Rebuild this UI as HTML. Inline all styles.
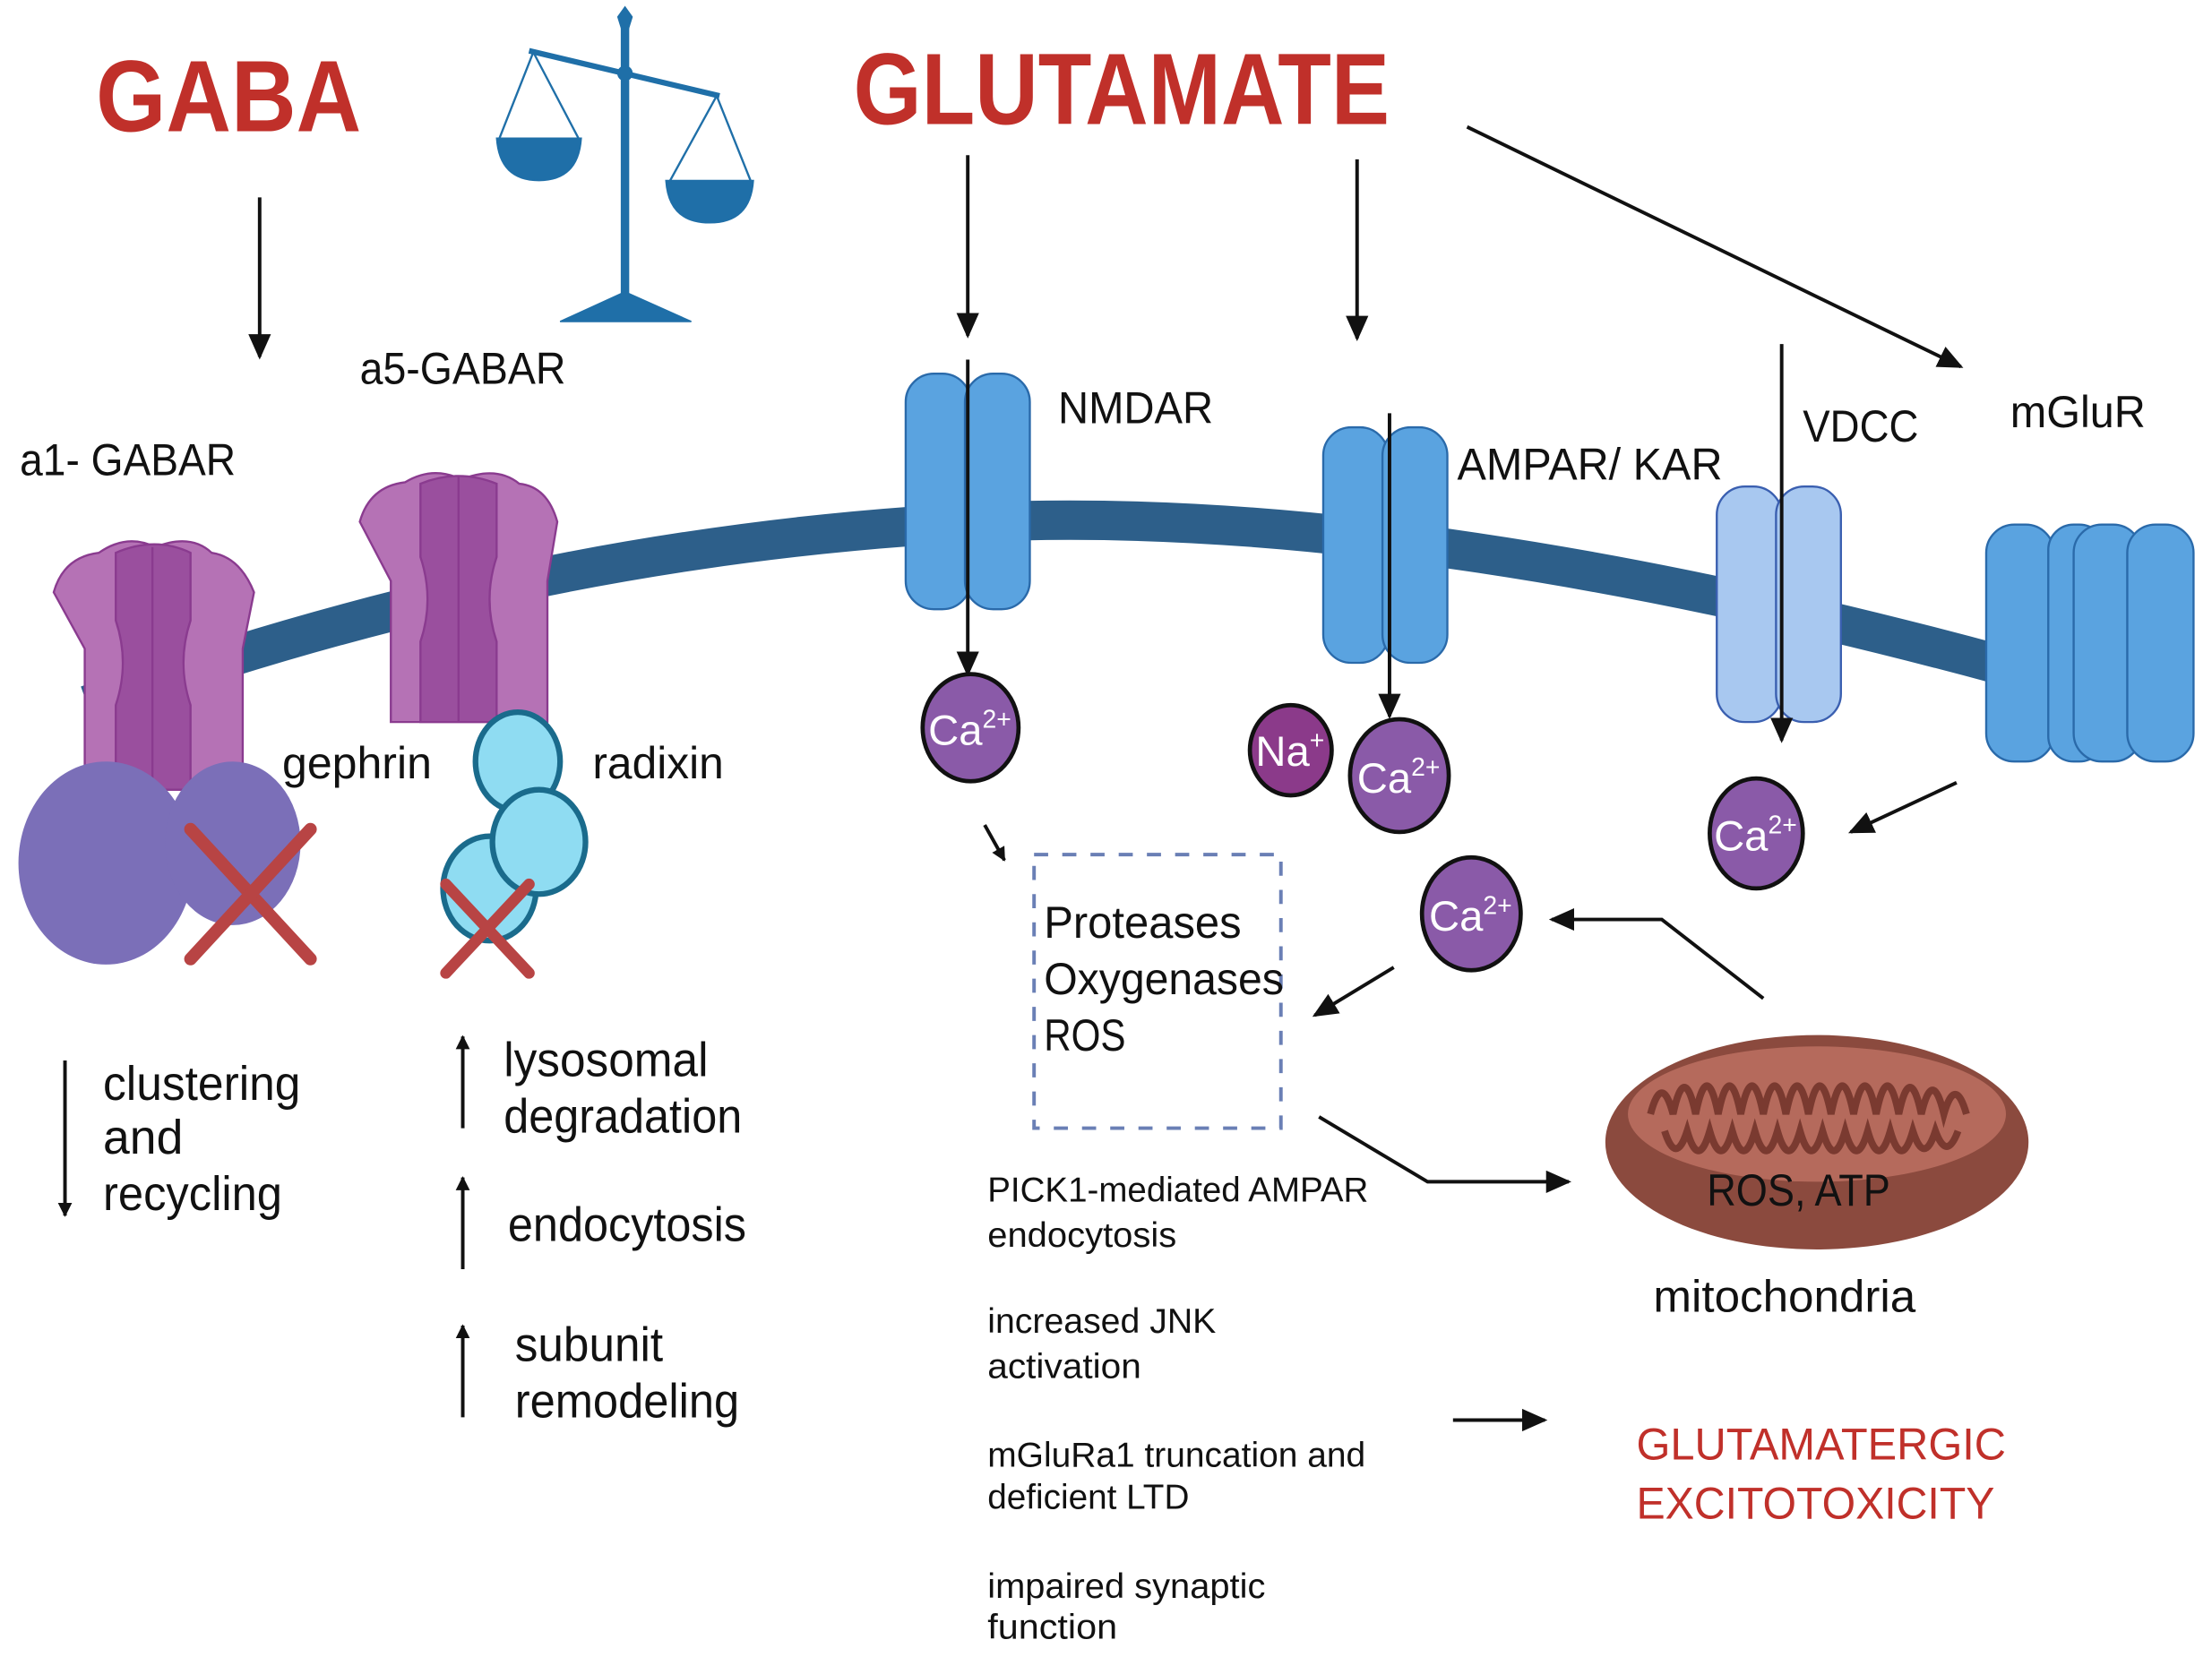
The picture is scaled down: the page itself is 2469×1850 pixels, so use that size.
<!DOCTYPE html>
<html><head><meta charset="utf-8"><style>
html,body{margin:0;padding:0;background:#fff;}
svg{display:block;}
text{font-family:"Liberation Sans Narrow","Liberation Sans",sans-serif;fill:#111;}
</style></head><body>
<svg width="2469" height="1850" viewBox="0 0 1568 1175" xmlns="http://www.w3.org/2000/svg">
<defs>
<marker id="ah" markerWidth="10" markerHeight="10" refX="9" refY="5" orient="auto" markerUnits="userSpaceOnUse"><path d="M0,0 L10,5 L0,10 Z" fill="#111"/></marker>
<marker id="ah2" markerWidth="18" markerHeight="16" refX="16" refY="8" orient="auto" markerUnits="userSpaceOnUse"><path d="M0,0 L18,8 L0,16 Z" fill="#111"/></marker>
</defs>
<path d="M62 500 Q 380 385 700 370 Q 1000 358 1420 472" fill="none" stroke="#2d5f8a" stroke-width="28"/>
<text x="68" y="93" font-size="72" font-weight="bold" style="fill:#c0302a" textLength="188" lengthAdjust="spacingAndGlyphs">GABA</text>
<text x="605" y="88" font-size="72" font-weight="bold" style="fill:#c0302a" textLength="380" lengthAdjust="spacingAndGlyphs">GLUTAMATE</text>
<g stroke="#1f6fa8" fill="#1f6fa8">
<line x1="443" y1="20" x2="443" y2="215" stroke-width="6"/>
<path d="M438 12 L443 5 L448 12 L443 28 Z"/>
<line x1="375" y1="36" x2="510" y2="68" stroke-width="4"/>
<circle cx="443" cy="52" r="5"/>
<line x1="378" y1="37" x2="354" y2="98" stroke-width="1.5"/><line x1="378" y1="37" x2="410" y2="98" stroke-width="1.5"/>
<line x1="508" y1="68" x2="475" y2="128" stroke-width="1.5"/><line x1="508" y1="68" x2="532" y2="128" stroke-width="1.5"/>
<path d="M352 98 L412 98 Q410 128 382 128 Q354 128 352 98 Z"/>
<path d="M472 128 L534 128 Q532 158 503 158 Q474 158 472 128 Z"/>
<path d="M397 228 L443 207 L490 228 Z"/>
</g>
<g stroke="#111" stroke-width="2.5" fill="none">
<line x1="184" y1="140" x2="184" y2="253" marker-end="url(#ah2)"/>
<line x1="686" y1="110" x2="686" y2="238" marker-end="url(#ah2)"/>
<line x1="962" y1="113" x2="962" y2="240" marker-end="url(#ah2)"/>
<line x1="1040" y1="90" x2="1390" y2="260" marker-end="url(#ah2)"/>
</g>
<text x="255" y="272" font-size="32" textLength="146" lengthAdjust="spacingAndGlyphs">a5-GABAR</text>
<text x="14" y="337" font-size="32" textLength="153" lengthAdjust="spacingAndGlyphs">a1- GABAR</text>
<g stroke="#8a3b8f" stroke-width="1.5">
<path d="M38 420 Q45 395 70 392 Q90 378 110 388 Q135 378 150 392 Q170 395 180 420 L172 460 L172 560 L60 560 L60 460 Z" fill="#b572b5"/>
<path d="M82 392 Q110 380 135 392 L135 440 Q125 470 135 500 L135 560 L82 560 L82 500 Q92 470 82 440 Z" fill="#9a4f9e"/>
<line x1="108" y1="388" x2="108" y2="560"/>
<path d="M255 370 Q262 345 287 342 Q307 330 327 340 Q352 330 368 343 Q388 345 395 370 L388 412 L388 512 L277 512 L277 412 Z" fill="#b572b5"/>
<path d="M298 343 Q325 332 352 343 L352 395 Q342 425 352 455 L352 512 L298 512 L298 455 Q308 425 298 395 Z" fill="#9a4f9e"/>
<line x1="325" y1="338" x2="325" y2="512"/>
</g>
<ellipse cx="75" cy="612" rx="62" ry="72" fill="#7b6fb8"/>
<ellipse cx="165" cy="598" rx="48" ry="58" fill="#7b6fb8"/>
<g stroke="#b84444" stroke-width="9" stroke-linecap="round">
<line x1="135" y1="588" x2="220" y2="680"/><line x1="220" y1="588" x2="135" y2="680"/>
</g>
<g fill="#8fdcf2" stroke="#1a6b8c" stroke-width="4">
<ellipse cx="367" cy="540" rx="30" ry="35"/>
<ellipse cx="347" cy="630" rx="33" ry="37"/>
<ellipse cx="382" cy="597" rx="33" ry="37"/>
</g>
<g stroke="#b84444" stroke-width="8" stroke-linecap="round">
<line x1="316" y1="627" x2="375" y2="690"/><line x1="375" y1="627" x2="316" y2="690"/>
</g>
<text x="200" y="552" font-size="32" textLength="106" lengthAdjust="spacingAndGlyphs">gephrin</text>
<text x="420" y="552" font-size="32" textLength="93" lengthAdjust="spacingAndGlyphs">radixin</text>
<g stroke="#2a6aaa" stroke-width="1.5" fill="#5aa3e0">
<rect x="642" y="265" width="46" height="167" rx="20"/>
<rect x="684" y="265" width="46" height="167" rx="20"/>
</g>
<text x="750" y="300" font-size="32" textLength="110" lengthAdjust="spacingAndGlyphs">NMDAR</text>
<line x1="686" y1="255" x2="686" y2="478" stroke="#111" stroke-width="2.5" marker-end="url(#ah2)"/>
<g stroke="#2a6aaa" stroke-width="1.5" fill="#5aa3e0">
<rect x="938" y="303" width="46" height="167" rx="20"/>
<rect x="980" y="303" width="46" height="167" rx="20"/>
</g>
<text x="1033" y="340" font-size="32" textLength="188" lengthAdjust="spacingAndGlyphs">AMPAR/ KAR</text>
<line x1="985" y1="293" x2="985" y2="508" stroke="#111" stroke-width="2.5" marker-end="url(#ah2)"/>
<g stroke="#3a5fb0" stroke-width="1.5" fill="#a8c8f0">
<rect x="1217" y="345" width="46" height="167" rx="20"/>
<rect x="1259" y="345" width="46" height="167" rx="20"/>
</g>
<text x="1278" y="313" font-size="32" textLength="82" lengthAdjust="spacingAndGlyphs">VDCC</text>
<line x1="1263" y1="244" x2="1263" y2="525" stroke="#111" stroke-width="2.5" marker-end="url(#ah2)"/>
<g stroke="#2a6aaa" stroke-width="1.5" fill="#5aa3e0">
<rect x="1440" y="385" width="80" height="140" fill="#3f8bd0"/>
<rect x="1408" y="372" width="48" height="168" rx="20"/>
<rect x="1452" y="372" width="40" height="168" rx="18"/>
<rect x="1470" y="372" width="48" height="168" rx="20"/>
<rect x="1508" y="372" width="47" height="168" rx="20"/>
</g>
<text x="1425" y="303" font-size="32" textLength="96" lengthAdjust="spacingAndGlyphs">mGluR</text>
<g stroke="#111" stroke-width="3" fill="#8a5aa8">
<ellipse cx="688" cy="516" rx="34" ry="38"/>
<ellipse cx="915" cy="532" rx="29" ry="32" fill="#8b3a8a"/>
<ellipse cx="992" cy="550" rx="35" ry="40"/>
<ellipse cx="1245" cy="591" rx="33" ry="39"/>
<ellipse cx="1043" cy="648" rx="35" ry="40"/>
</g>
<g font-size="30">
<text x="658" y="528" style="fill:#fff">Ca<tspan font-size="18" dy="-12">2+</tspan></text>
<text x="962" y="562" style="fill:#fff">Ca<tspan font-size="18" dy="-12">2+</tspan></text>
<text x="1215" y="603" style="fill:#fff">Ca<tspan font-size="18" dy="-12">2+</tspan></text>
<text x="1013" y="660" style="fill:#fff">Ca<tspan font-size="18" dy="-12">2+</tspan></text>
<text x="890" y="543" style="fill:#fff">Na<tspan font-size="18" dy="-12">+</tspan></text>
</g>
<g stroke="#111" stroke-width="2.5" fill="none">
<line x1="698" y1="585" x2="712" y2="610" marker-end="url(#ah)"/>
<line x1="1387" y1="555" x2="1312" y2="590" marker-end="url(#ah2)"/>
<polyline points="1250,708 1178,652 1100,652" marker-end="url(#ah2)"/>
<line x1="988" y1="686" x2="932" y2="720" marker-end="url(#ah2)"/>
<polyline points="935,792 1012,838 1112,838" marker-end="url(#ah2)"/>
<line x1="1030" y1="1007" x2="1095" y2="1007" marker-end="url(#ah2)"/>
<line x1="46" y1="752" x2="46" y2="862" marker-end="url(#ah)"/>
<line x1="328" y1="800" x2="328" y2="735" marker-end="url(#ah)"/>
<line x1="328" y1="900" x2="328" y2="835" marker-end="url(#ah)"/>
<line x1="328" y1="1005" x2="328" y2="940" marker-end="url(#ah)"/>
</g>
<rect x="733" y="606" width="175" height="194" fill="none" stroke="#6a7fb5" stroke-width="2.5" stroke-dasharray="10,10"/>
<text x="740" y="665" font-size="32" textLength="140" lengthAdjust="spacingAndGlyphs">Proteases</text>
<text x="740" y="705" font-size="32" textLength="170" lengthAdjust="spacingAndGlyphs">Oxygenases</text>
<text x="740" y="745" font-size="32" textLength="58" lengthAdjust="spacingAndGlyphs">ROS</text>
<ellipse cx="1288" cy="810" rx="150" ry="76" fill="#8b4a3e"/>
<ellipse cx="1288" cy="790" rx="134" ry="48" fill="#b56a5c"/>
<path d="M1170 790 q8 -30 16 0 q8 -38 16 0 q8 -40 16 0 q8 -40 16 0 q8 -40 16 0 q8 -40 16 0 q8 -40 16 0 q8 -40 16 0 q8 -40 16 0 q8 -40 16 0 q8 -40 16 0 q8 -38 16 0 q8 -34 16 0 q8 -28 16 0" fill="none" stroke="#7a3a30" stroke-width="5"/>
<path d="M1180 802 q8 25 16 0 q8 28 16 0 q8 28 16 0 q8 28 16 0 q8 28 16 0 q8 28 16 0 q8 28 16 0 q8 28 16 0 q8 28 16 0 q8 28 16 0 q8 28 16 0 q8 25 16 0 q8 22 16 0" fill="none" stroke="#7a3a30" stroke-width="5"/>
<text x="1210" y="855" font-size="32" textLength="130" lengthAdjust="spacingAndGlyphs">ROS, ATP</text>
<text x="1172" y="930" font-size="32" textLength="186" lengthAdjust="spacingAndGlyphs">mitochondria</text>
<g font-size="34">
<text x="73" y="780" textLength="140" lengthAdjust="spacingAndGlyphs">clustering</text><text x="73" y="818">and</text><text x="73" y="858" textLength="127" lengthAdjust="spacingAndGlyphs">recycling</text>
<text x="357" y="763" textLength="145" lengthAdjust="spacingAndGlyphs">lysosomal</text><text x="357" y="803" textLength="169" lengthAdjust="spacingAndGlyphs">degradation</text>
<text x="360" y="880" textLength="169" lengthAdjust="spacingAndGlyphs">endocytosis</text>
<text x="365" y="965" textLength="105" lengthAdjust="spacingAndGlyphs">subunit</text><text x="365" y="1005" textLength="159" lengthAdjust="spacingAndGlyphs">remodeling</text>
</g>
<g font-size="25">
<text x="700" y="852" textLength="270" lengthAdjust="spacingAndGlyphs">PICK1-mediated AMPAR</text><text x="700" y="884" textLength="134" lengthAdjust="spacingAndGlyphs">endocytosis</text>
<text x="700" y="945" textLength="162" lengthAdjust="spacingAndGlyphs">increased JNK</text><text x="700" y="977" textLength="109" lengthAdjust="spacingAndGlyphs">activation</text>
<text x="700" y="1040" textLength="268" lengthAdjust="spacingAndGlyphs">mGluRa1 truncation and</text><text x="700" y="1070" textLength="143" lengthAdjust="spacingAndGlyphs">deficient LTD</text>
<text x="700" y="1133" textLength="197" lengthAdjust="spacingAndGlyphs">impaired synaptic</text><text x="700" y="1162" textLength="92" lengthAdjust="spacingAndGlyphs">function</text>
</g>
<text x="1160" y="1035" font-size="32" style="fill:#c0302a" textLength="262" lengthAdjust="spacingAndGlyphs">GLUTAMATERGIC</text>
<text x="1160" y="1077" font-size="32" style="fill:#c0302a" textLength="254" lengthAdjust="spacingAndGlyphs">EXCITOTOXICITY</text>
</svg>
</body></html>
